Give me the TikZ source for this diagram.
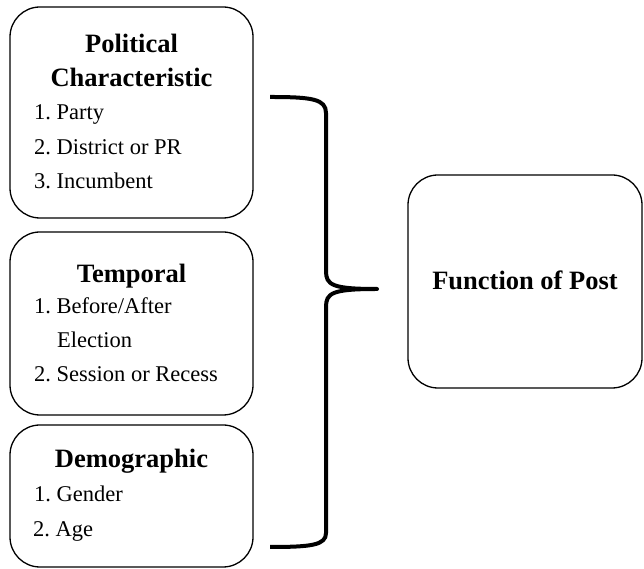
\documentclass[tikz,border=0pt]{standalone}
\usepackage{fontspec}
\setmainfont{Liberation Serif}
\frenchspacing
\usetikzlibrary{positioning}
\tikzset{
    rndbox/.style={draw=black,line width=1.3pt,rounded corners=30pt,fill=white,inner sep=0pt},
    title/.style={font=\fontsize{26.5}{30}\selectfont\bfseries,inner sep=0pt,anchor=base},
    item/.style={font=\fontsize{22.5}{26}\selectfont,inner sep=0pt,anchor=base west},
    bracket/.style={draw=black,line width=4pt,line cap=butt,line join=round}
}
\begin{document}
\begin{tikzpicture}[x=1pt,y=1pt]
        \useasboundingbox (0,0) rectangle (644,569);
        \node[rndbox,minimum width=243pt,minimum height=211pt] (polbox) at (131.5,456.5) {};
        \node[rndbox,minimum width=243pt,minimum height=183pt] (tmpbox) at (131.5,245.5) {};
        \node[rndbox,minimum width=243pt,minimum height=142pt] (dembox) at (131.5,73) {};
        \node[rndbox,minimum width=234pt,minimum height=213pt] (funcbox) at (525,287.5) {};

        \node[title] (poltitle) at (131.5,516) {Political};
        \node[title] (poltitle2) at (131.5,482) {Characteristic};
        \node[item] (party) at (34,449) {1. Party};
        \node[item] (district) at (34,414) {2. District or PR};
        \node[item] (incumb) at (34,380) {3. Incumbent};

        \node[title] (tmptitle) at (131.5,286) {Temporal};
        \node[item] (before) at (34,255) {1. Before/After};
        \node[item] (election) at (57,221) {Election};
        \node[item] (session) at (34,187) {2. Session or Recess};

        \node[title] (demtitle) at (131.5,101) {Demographic};
        \node[item] (gender) at (34,67) {1. Gender};
        \node[item] (age) at (33,32) {2. Age};

        \node[title] (functitle) at (funcbox.center) [yshift=-8pt] {Function of Post};

        % brace joining the three groups
        \coordinate (bractop) at (270,472);
        \coordinate (bracbot) at (270,22);
        \coordinate (bractip) at (377,280);
        \draw[bracket] (bractop) .. controls (312,472) and (326,470) .. (326,456)
            -- (326,298) .. controls (326,284) and (332,280) .. (bractip)
            .. controls (332,280) and (326,276) .. (326,262)
            -- (326,36) .. controls (326,24) and (312,22) .. (bracbot);
    \end{tikzpicture}
\end{document}
